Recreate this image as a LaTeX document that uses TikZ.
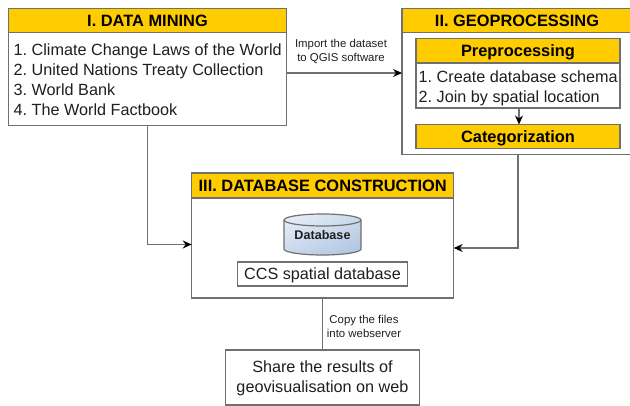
\documentclass[tikz,border=0pt]{standalone}
\usepackage{fontspec}
\setmainfont{Liberation Sans}
\usetikzlibrary{arrows.meta}
\definecolor{hdr}{HTML}{FFCC00}
\definecolor{edge}{HTML}{707070}
\definecolor{ink}{HTML}{1F1F1F}
\definecolor{cyllight}{HTML}{E2EBF6}
\definecolor{cyldark}{HTML}{B4C8E2}
\tikzset{
  x=1pt,y=-1pt,
  plainbox/.style={draw=edge,line width=1.2pt,fill=white,anchor=north west,inner sep=0pt,outer sep=0pt},
  headbox/.style={plainbox,fill=hdr,text=black,text height=11.6pt,text depth=0pt,font=\bfseries\fontsize{16.4}{16}\selectfont},
  bodytext/.style={anchor=north west,inner sep=0pt,align=left,text=ink,font=\fontsize{16.2}{19.8}\selectfont},
  smalltext/.style={inner sep=0pt,align=center,text=ink,font=\fontsize{11.4}{14}\selectfont},
  link/.style={draw=edge,line width=1.2pt},
  arrowlink/.style={link,-{Stealth[length=9pt,width=8pt,color=black]}}
}
\begin{document}
\frenchspacing
\begin{tikzpicture}
\useasboundingbox (0,0) rectangle (630,406);
\clip (0,0) rectangle (630,406);
% I
\node[plainbox,minimum width=278pt,minimum height=116.5pt] (mine) at (8.5,8.7) {};
\node[headbox,minimum width=278pt,minimum height=23.5pt] (minehead) at (8.5,8.7) {I. DATA MINING};
\node[bodytext] (minetext) at (13.5,44) {1. Climate Change Laws of the World\\2. United Nations Treaty Collection\\3. World Bank\\4. The World Factbook};
% II
\node[plainbox,minimum width=230pt,minimum height=145.5pt] (geo) at (402,8.7) {};
\node[headbox,minimum width=230pt,minimum height=23.5pt] (geohead) at (402,8.7) {II. GEOPROCESSING};
\node[plainbox,minimum width=204pt,minimum height=69.5pt] (prep) at (416,38.5) {};
\node[headbox,minimum width=204pt,minimum height=24.5pt] (prephead) at (416,38.5) {Preprocessing};
\node[bodytext] (preptext) at (418.5,70.8) {1. Create database schema\\2. Join by spatial location};
\node[headbox,minimum width=204pt,minimum height=24pt] (cat) at (416,124.5) {Categorization};
% III
\node[plainbox,minimum width=262pt,minimum height=125pt] (db) at (191.7,173) {};
\node[headbox,minimum width=262pt,minimum height=25pt] (dbhead) at (191.7,173) {III. DATABASE CONSTRUCTION};
% cylinder
\path[draw=edge,line width=1.2pt,top color=cyllight,bottom color=cyldark,shading angle=25]
  (284,220) -- (284,249) arc[start angle=180,end angle=360,x radius=38.5pt,y radius=6pt] -- (361,220)
  arc[start angle=0,end angle=180,x radius=38.5pt,y radius=6pt] -- cycle;
\draw[edge,line width=1.2pt] (284,220) arc[start angle=180,end angle=360,x radius=38.5pt,y radius=6pt];
\node[inner sep=0pt,text=ink,font=\bfseries\fontsize{12.6}{12}\selectfont] (cyl) at (322.5,235) {Database};
\node[plainbox,text=ink,text height=11.6pt,text depth=0pt,font=\fontsize{16.2}{16}\selectfont,minimum width=170pt,minimum height=24pt] (ccs) at (237.5,262) {CCS spatial database};
% share
\node[plainbox,minimum width=194pt,minimum height=55pt] (share) at (225.5,350) {};
\node[inner sep=0pt,text=ink,align=center,font=\fontsize{16.2}{19.8}\selectfont] (sharetext) at (322.5,378.5) {Share the results of\\geovisualisation on web};
% connector helpers
\coordinate (firstbend) at (147.5,244.5);
\coordinate (secondbend) at (518,248);
\coordinate (importy) at (340,73);
\coordinate (midprep) at (519,100);
\coordinate (copyx) at (322.5,320);
% connectors
\draw[arrowlink] (mine.east |- importy) -- (geo.west |- importy);
\draw[arrowlink] (mine.south -| firstbend) -- (firstbend) -- (db.west |- firstbend);
\draw[arrowlink] (geo.south -| secondbend) -- (secondbend) -- (db.east |- secondbend);
\draw[arrowlink] (prep.south -| midprep) -- (cat.north -| midprep);
\draw[link] (db.south -| copyx) -- (share.north -| copyx);
% labels
\node[smalltext] (importlabel) at (341,51) {Import the dataset\\to QGIS software};
\node[smalltext] (copylabel) at (364,326.5) {Copy the files\\into webserver};
\end{tikzpicture}
\end{document}
